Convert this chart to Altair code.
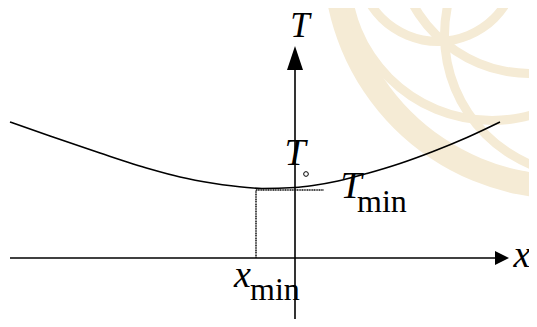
import altair as alt
import pandas as pd

# ---- data (units: 1 = 100 px, origin at axes crossing) ----
curve_x = [-2.85, -2.45, -1.95, -1.45, -1.15, -0.82, -0.48, -0.33, 0.00, 0.18, 0.43, 0.72, 1.05, 1.38, 1.72, 2.05]
curve_T = [1.36, 1.22, 1.05, 0.89, 0.81, 0.748, 0.705, 0.695, 0.705, 0.725, 0.77, 0.845, 0.945, 1.065, 1.205, 1.36]

axis_x1 = [-2.85, 0.00]
axis_y1 = [0.00, -0.69]
axis_x2 = [2.00, 0.00]
axis_y2 = [0.00, 1.90]

x_min = -0.39
T_line = 0.68
T_line_end = 0.29

circle_x = [0.11]
circle_y = [0.84]

label_text = ["T", "x", "T", "T", "x"]
label_x = [0.05, 2.27, 0.00, 0.56, -0.525]
label_y = [2.21, -0.09, 0.93, 0.60, -0.29]
label_size = [35, 38, 38, 38, 38]

sub_text = ["min", "min"]
sub_x = [0.62, -0.45]
sub_y = [0.46, -0.42]
sub_size = [32, 32]

# watermark rings: centre (x, y) and radii in px
ring_x = [2.70, 1.97, 2.35, 1.43, 2.90]
ring_y = [3.01, 2.83, 3.18, 2.96, 2.23]
ring_r_out = [242, 150, 138, 84, 145]
ring_r_in = [218, 141, 129, 75, 136]

XS = alt.Scale(domain=[-2.87, 2.34])
YS = alt.Scale(domain=[-0.61, 2.50])


def X(f="x"):
    return alt.X(f"{f}:Q", scale=XS, axis=None)


def Y(f="y"):
    return alt.Y(f"{f}:Q", scale=YS, axis=None)


layers = []

# watermark
for cx, cy, ro, ri in zip(ring_x, ring_y, ring_r_out, ring_r_in):
    layers.append(
        alt.Chart(pd.DataFrame({"x": [cx], "y": [cy]}))
        .mark_arc(radius=ro, radius2=ri, theta=0, theta2=6.2832, color="#f5ebd5", clip=False)
        .encode(x=X(), y=Y())
    )

# axes
axes_df = pd.DataFrame({"x": axis_x1, "y": axis_y1, "x2": axis_x2, "y2": axis_y2})
layers.append(
    alt.Chart(axes_df).mark_rule(color="black", strokeWidth=1.6)
    .encode(x=X(), y=Y(), x2="x2:Q", y2="y2:Q")
)

# arrow heads
layers.append(
    alt.Chart(pd.DataFrame({"x": [0.0], "y": [2.00]}))
    .mark_point(shape="M0,-1.5L1,1.5L-1,1.5Z", size=256, filled=True, color="black", opacity=1, strokeWidth=0)
    .encode(x=X(), y=Y())
)
layers.append(
    alt.Chart(pd.DataFrame({"x": [2.07], "y": [0.0]}))
    .mark_point(shape="M1,0L-1,-1L-1,1Z", size=196, filled=True, color="black", opacity=1, strokeWidth=0)
    .encode(x=X(), y=Y())
)

# dotted helper lines
dot_df = pd.DataFrame({"x": [x_min, x_min], "y": [0.0, T_line], "x2": [x_min, T_line_end], "y2": [T_line, T_line]})
layers.append(
    alt.Chart(dot_df).mark_rule(color="#111", strokeWidth=1.5, strokeDash=[1.2, 0.5])
    .encode(x=X(), y=Y(), x2="x2:Q", y2="y2:Q")
)

# curve
curve_df = pd.DataFrame({"x": curve_x, "y": curve_T})
layers.append(
    alt.Chart(curve_df).mark_line(color="black", strokeWidth=1.6, interpolate="monotone")
    .encode(x=X(), y=Y(), order="x:Q")
)

# small circle
layers.append(
    alt.Chart(pd.DataFrame({"x": circle_x, "y": circle_y}))
    .mark_point(shape="circle", size=22, filled=False, color="black", strokeWidth=1, opacity=1)
    .encode(x=X(), y=Y())
)

# labels
lab_df = pd.DataFrame({"t": label_text, "x": label_x, "y": label_y, "s": label_size})
layers.append(
    alt.Chart(lab_df).mark_text(font="Liberation Serif", fontStyle="italic", align="center", baseline="alphabetic", color="black")
    .encode(x=X(), y=Y(), text="t:N", size=alt.Size("s:Q", scale=None))
)
sub_df = pd.DataFrame({"t": sub_text, "x": sub_x, "y": sub_y, "s": sub_size})
layers.append(
    alt.Chart(sub_df).mark_text(font="Liberation Serif", align="left", baseline="alphabetic", color="black")
    .encode(x=X(), y=Y(), text="t:N", size=alt.Size("s:Q", scale=None))
)

chart = (
    alt.layer(*layers)
    .properties(width=521, height=311, autosize=alt.AutoSizeParams(type="none"), padding=0, background="white")
    .configure_view(stroke=None)
)

chart.save("out.html", embed_options={"renderer": "svg", "actions": False})
